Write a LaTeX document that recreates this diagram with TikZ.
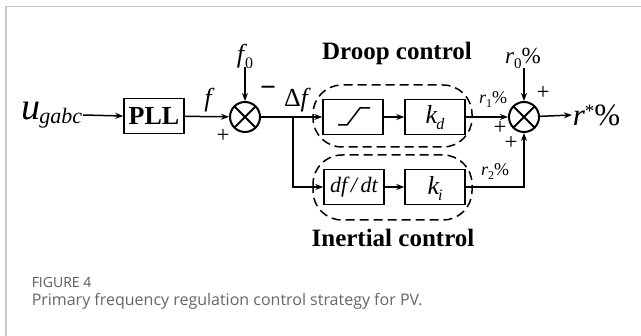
\documentclass[tikz,border=0pt]{standalone}
\usepackage{fontspec}
\setmainfont{Liberation Serif}
\newfontfamily\capfont{Open Sans}
\usetikzlibrary{arrows.meta,calc}
\begin{document}
\begin{tikzpicture}[x=1pt,y=-1pt,
  line width=1.5pt,
  arr/.style={-{Stealth[length=8pt,width=6pt]}},
  blk/.style={draw,line width=1.5pt,minimum width=60pt,minimum height=35pt,inner sep=0pt},
  sumx/.style={draw,circle,line width=2pt,minimum size=30pt,inner sep=0pt,
    path picture={\draw[line width=2pt]
      (path picture bounding box.north west)--(path picture bounding box.south east)
      (path picture bounding box.north east)--(path picture bounding box.south west);}},
  grp/.style={draw,dash pattern=on 9pt off 5pt,line width=1.5pt,rounded corners=29pt},
  lbl/.style={inner sep=0pt,font=\fontsize{26}{28}\selectfont\itshape},
  sml/.style={inner sep=0pt,font=\fontsize{23}{25}\selectfont},
  ttl/.style={inner sep=0pt,font=\fontsize{25}{28}\selectfont\bfseries}]
\useasboundingbox (0,0) rectangle (641,336);
\fill[white] (0,0) rectangle (641,336);
\draw[black!22,line width=1.3pt] (6,336) -- (6,6.5) -- (641,6.5);

% groups
\draw[grp] (313,85) rectangle (472,147);
\draw[grp] (313,155) rectangle (472,220);

% blocks
\node[blk] (pll) at (154,116) {\fontsize{26}{28}\selectfont\bfseries PLL};
\node[sumx] (s1) at (245,117) {};
\node[blk] (sat) at (353,117) {};
\node[blk] (kd) at (435,117) {};
\node[blk] (dfdt) at (354,187) {};
\node[blk] (ki) at (435,187) {};
\node[sumx] (s2) at (524,117) {};

\node[inner sep=0pt,font=\fontsize{22}{24}\selectfont\itshape] (dft) at (dfdt) {df\,/\,dt};
\node[lbl] (kdt) at (435,118) {k\kern-1pt\raisebox{-6pt}{\fontsize{16}{18}\selectfont d}};
\node[lbl] (kitxt) at (435,188) {k\kern-1pt\raisebox{-6pt}{\fontsize{16}{18}\selectfont i}};

% saturation symbol
\draw[line width=1.5pt] (338,125) -- (347,125) -- (360,108) -- (370,108);

% inputs / outputs
\node[inner sep=0pt,anchor=east] (u) at (83,115) {\fontsize{38}{40}\selectfont\itshape u\kern-1pt\raisebox{-4pt}{\fontsize{22}{24}\selectfont gabc}};
\node[lbl] (f0) at (245,56) {f\kern1pt\raisebox{-6pt}{\fontsize{16}{18}\selectfont\upshape 0}};
\node[inner sep=0pt,font=\fontsize{23}{25}\selectfont] (r0) at (523,58) {\itshape r\raisebox{-5pt}{\fontsize{15}{17}\selectfont\upshape 0}\upshape\%};
\node[inner sep=0pt,anchor=west] (rs) at (572,115) {\fontsize{31}{33}\selectfont\itshape r\raisebox{8pt}{\fontsize{19}{21}\selectfont\upshape *}\upshape\%};
\coordinate (br) at (293,117);
\coordinate (f0b) at (245,67);
\coordinate (r0b) at (524,68);

% connectors
\draw[arr] (u.east) -- (pll.west);
\draw[arr] (pll) -- (s1);
\draw[arr] (f0b) -- (s1);
\draw (s1) -- (br);
\draw[arr] (br) -- (sat);
\draw[arr] (br) |- (dfdt);
\draw[arr] (sat) -- (kd);
\draw[arr] (dfdt) -- (ki);
\draw[arr] (kd) -- (s2);
\draw[arr] (ki) -| (s2);
\draw[arr] (r0b) -- (s2);
\draw[arr] (s2) -- (rs.west);

% labels
\node[lbl] (fl) at (208,100) {f};
\node[lbl] (dfl) at (296,100) {\upshape Δ\itshape f};
\node[sml] (p1) at (223,136) {+};
\node[inner sep=0pt,font=\fontsize{28}{30}\selectfont\bfseries] (m1) at (268,91) {−};
\node[inner sep=0pt,font=\fontsize{18}{20}\selectfont] (r1) at (493,100) {\itshape r\raisebox{-4pt}{\fontsize{12}{14}\selectfont\upshape 1}\upshape\%};
\node[inner sep=0pt,font=\fontsize{18}{20}\selectfont] (r2) at (495,172) {\itshape r\raisebox{-4pt}{\fontsize{12}{14}\selectfont\upshape 2}\upshape\%};
\node[sml] (p2) at (543,93) {+};
\node[sml] (p3) at (500,128) {+};
\node[sml] (p4) at (511,143) {+};

\node[ttl] (dc) at (397,53) {Droop control};
\node[ttl] (ic) at (393,238) {Inertial control};

% caption
\node[anchor=base west,inner sep=0pt,text=black!65,font=\capfont\fontsize{14}{16}\selectfont] (cap1) at (31,288) {FIGURE 4};
\node[anchor=base west,inner sep=0pt,text=black!60,font=\capfont\fontsize{16}{18}\selectfont] (cap2) at (31,306) {Primary frequency regulation control strategy for PV.};
\end{tikzpicture}
\end{document}
